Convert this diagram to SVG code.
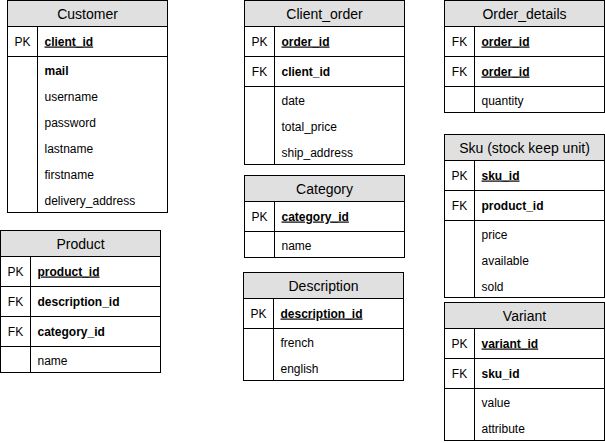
<svg xmlns="http://www.w3.org/2000/svg" width="605" height="443" viewBox="0 0 605 443">
<style>
  .box { fill: #ffffff; stroke: #000000; stroke-width: 1; }
  .hdr { fill: #e0e0e0; stroke: #000000; stroke-width: 1; }
  .ln { stroke: #000000; stroke-width: 1; fill: none; }
  text { font-family: "Liberation Sans", Arial, Helvetica, sans-serif; fill: #000000; }
  .title { font-size: 14px; text-anchor: middle; }
  .key { font-size: 12px; text-anchor: middle; }
  .f { font-size: 12px; }
  .b { font-weight: bold; }
  .u { text-decoration: underline; }
</style>
<rect width="605" height="443" fill="#ffffff"/>
<g id="connectors"/>

<g id="customer">
  <rect class="box" x="7.5" y="0.5" width="160" height="212"/>
  <rect class="hdr" x="7.5" y="0.5" width="160" height="26"/>
  <line class="ln" x1="7.5" y1="56.5" x2="167.5" y2="56.5"/>
  <line class="ln" x1="37.5" y1="26.5" x2="37.5" y2="212.5"/>
  <text class="title" x="87.5" y="19">Customer</text>
  <text class="key" x="22.5" y="45.5">PK</text>
  <text class="f b u" x="44.5" y="45.5">client_id</text>
  <text class="f b" x="44.5" y="75">mail</text>
  <text class="f" x="44.5" y="101">username</text>
  <text class="f" x="44.5" y="127">password</text>
  <text class="f" x="44.5" y="153">lastname</text>
  <text class="f" x="44.5" y="179">firstname</text>
  <text class="f" x="44.5" y="205">delivery_address</text>
</g>

<g id="product">
  <rect class="box" x="0.5" y="230.5" width="160" height="142"/>
  <rect class="hdr" x="0.5" y="230.5" width="160" height="26"/>
  <line class="ln" x1="0.5" y1="286.5" x2="160.5" y2="286.5"/>
  <line class="ln" x1="0.5" y1="316.5" x2="160.5" y2="316.5"/>
  <line class="ln" x1="0.5" y1="346.5" x2="160.5" y2="346.5"/>
  <line class="ln" x1="30.5" y1="256.5" x2="30.5" y2="372.5"/>
  <text class="title" x="80.5" y="249">Product</text>
  <text class="key" x="15.5" y="275.5">PK</text>
  <text class="f b u" x="37.5" y="275.5">product_id</text>
  <text class="key" x="15.5" y="305.5">FK</text>
  <text class="f b" x="37.5" y="305.5">description_id</text>
  <text class="key" x="15.5" y="335.5">FK</text>
  <text class="f b" x="37.5" y="335.5">category_id</text>
  <text class="f" x="37.5" y="365">name</text>
</g>

<g id="client_order">
  <rect class="box" x="244.5" y="0.5" width="160" height="164"/>
  <rect class="hdr" x="244.5" y="0.5" width="160" height="26"/>
  <line class="ln" x1="244.5" y1="56.5" x2="404.5" y2="56.5"/>
  <line class="ln" x1="244.5" y1="86.5" x2="404.5" y2="86.5"/>
  <line class="ln" x1="274.5" y1="26.5" x2="274.5" y2="164.5"/>
  <text class="title" x="324.5" y="19">Client_order</text>
  <text class="key" x="259.5" y="45.5">PK</text>
  <text class="f b u" x="281.5" y="45.5">order_id</text>
  <text class="key" x="259.5" y="75.5">FK</text>
  <text class="f b" x="281.5" y="75.5">client_id</text>
  <text class="f" x="281.5" y="105">date</text>
  <text class="f" x="281.5" y="131">total_price</text>
  <text class="f" x="281.5" y="157">ship_address</text>
</g>

<g id="category">
  <rect class="box" x="244.5" y="175.5" width="160" height="82"/>
  <rect class="hdr" x="244.5" y="175.5" width="160" height="26"/>
  <line class="ln" x1="244.5" y1="231.5" x2="404.5" y2="231.5"/>
  <line class="ln" x1="274.5" y1="201.5" x2="274.5" y2="257.5"/>
  <text class="title" x="324.5" y="194">Category</text>
  <text class="key" x="259.5" y="220.5">PK</text>
  <text class="f b u" x="281.5" y="220.5">category_id</text>
  <text class="f" x="281.5" y="250">name</text>
</g>

<g id="description">
  <rect class="box" x="243.5" y="272.5" width="160" height="108"/>
  <rect class="hdr" x="243.5" y="272.5" width="160" height="26"/>
  <line class="ln" x1="243.5" y1="328.5" x2="403.5" y2="328.5"/>
  <line class="ln" x1="273.5" y1="298.5" x2="273.5" y2="380.5"/>
  <text class="title" x="323.5" y="291">Description</text>
  <text class="key" x="258.5" y="317.5">PK</text>
  <text class="f b u" x="280.5" y="317.5">description_id</text>
  <text class="f" x="280.5" y="347">french</text>
  <text class="f" x="280.5" y="373">english</text>
</g>

<g id="order_details">
  <rect class="box" x="444.5" y="0.5" width="160" height="112"/>
  <rect class="hdr" x="444.5" y="0.5" width="160" height="26"/>
  <line class="ln" x1="444.5" y1="56.5" x2="604.5" y2="56.5"/>
  <line class="ln" x1="444.5" y1="86.5" x2="604.5" y2="86.5"/>
  <line class="ln" x1="474.5" y1="26.5" x2="474.5" y2="112.5"/>
  <text class="title" x="524.5" y="19">Order_details</text>
  <text class="key" x="459.5" y="45.5">FK</text>
  <text class="f b u" x="481.5" y="45.5">order_id</text>
  <text class="key" x="459.5" y="75.5">FK</text>
  <text class="f b u" x="481.5" y="75.5">order_id</text>
  <text class="f" x="481.5" y="105">quantity</text>
</g>

<g id="sku">
  <rect class="box" x="444.5" y="134.5" width="160" height="163"/>
  <rect class="hdr" x="444.5" y="134.5" width="160" height="26"/>
  <line class="ln" x1="444.5" y1="190.5" x2="604.5" y2="190.5"/>
  <line class="ln" x1="444.5" y1="220.5" x2="604.5" y2="220.5"/>
  <line class="ln" x1="474.5" y1="160.5" x2="474.5" y2="297.5"/>
  <text class="title" x="524.5" y="153">Sku (stock keep unit)</text>
  <text class="key" x="459.5" y="179.5">PK</text>
  <text class="f b u" x="481.5" y="179.5">sku_id</text>
  <text class="key" x="459.5" y="209.5">FK</text>
  <text class="f b" x="481.5" y="209.5">product_id</text>
  <text class="f" x="481.5" y="239">price</text>
  <text class="f" x="481.5" y="265">available</text>
  <text class="f" x="481.5" y="291">sold</text>
</g>

<g id="variant">
  <rect class="box" x="444.5" y="302.5" width="160" height="138"/>
  <rect class="hdr" x="444.5" y="302.5" width="160" height="26"/>
  <line class="ln" x1="444.5" y1="358.5" x2="604.5" y2="358.5"/>
  <line class="ln" x1="444.5" y1="388.5" x2="604.5" y2="388.5"/>
  <line class="ln" x1="474.5" y1="328.5" x2="474.5" y2="440.5"/>
  <text class="title" x="524.5" y="321">Variant</text>
  <text class="key" x="459.5" y="347.5">PK</text>
  <text class="f b u" x="481.5" y="347.5">variant_id</text>
  <text class="key" x="459.5" y="377.5">FK</text>
  <text class="f b" x="481.5" y="377.5">sku_id</text>
  <text class="f" x="481.5" y="407">value</text>
  <text class="f" x="481.5" y="433">attribute</text>
</g>
</svg>
